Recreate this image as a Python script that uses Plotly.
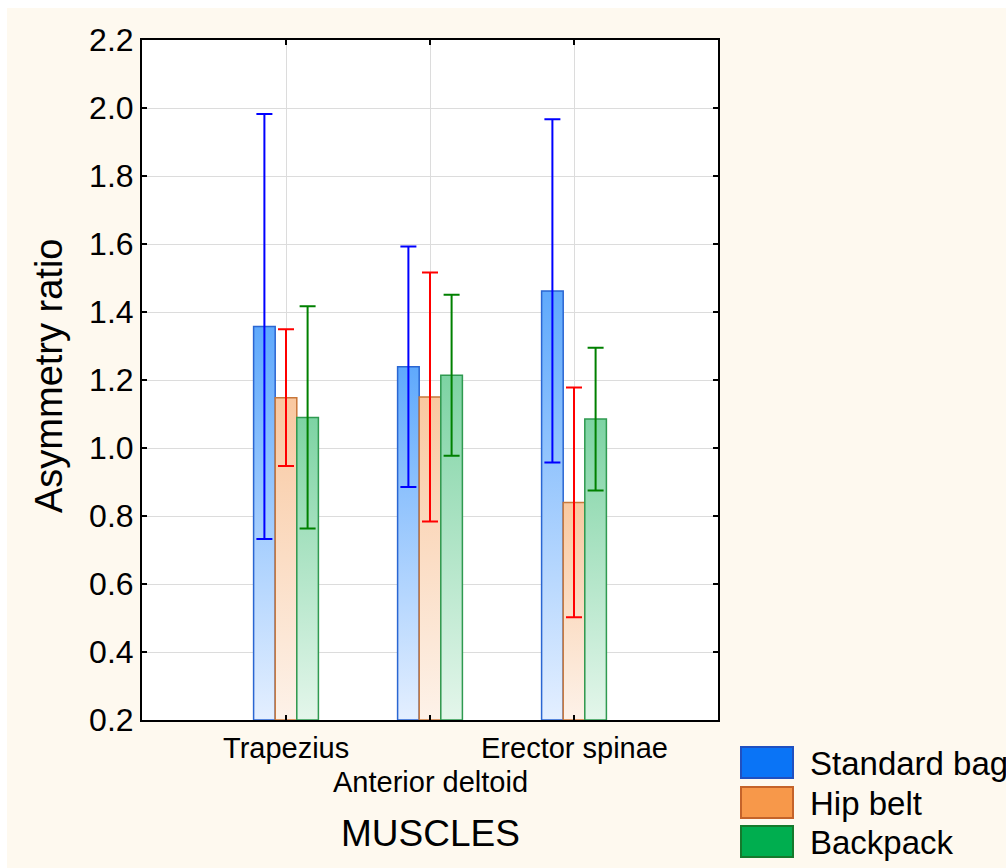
import plotly.graph_objects as go

# ---------------- data ----------------
categories = ["Trapezius", "Anterior deltoid", "Erector spinae"]
series_names = ["Standard bag", "Hip belt", "Backpack"]
standard_bag = [1.357, 1.239, 1.462]
standard_bag_err = [0.625, 0.354, 0.505]
hip_belt = [1.148, 1.150, 0.840]
hip_belt_err = [0.201, 0.366, 0.338]
backpack = [1.090, 1.214, 1.085]
backpack_err = [0.327, 0.237, 0.210]
y_ticks = [0.2, 0.4, 0.6, 0.8, 1.0, 1.2, 1.4, 1.6, 1.8, 2.0, 2.2]

# ---------------- styling ----------------
FONT = "Liberation Sans, Arial, sans-serif"
W, H = 1006, 868
L, R, T, B = 142, 718, 40, 720          # plot area in pixels
BASE = 0.2
BAR_W = 0.15
CREAM = "#FEF9EF"

styles = [
    dict(top="#5fa9fc", bottom="#e4efff", line="#2a66d2", err="#0000ff",
         legend_fill="#0a74f6", legend_line="#2050c0"),
    dict(top="#f9c8a0", bottom="#fdf2e9", line="#c8773a", err="#ff0000",
         legend_fill="#f7984a", legend_line="#c4632a"),
    dict(top="#7dd3a3", bottom="#e4f6eb", line="#2f9a50", err="#008000",
         legend_fill="#00ae4f", legend_line="#157a2c"),
]
values = [standard_bag, hip_belt, backpack]
errors = [standard_bag_err, hip_belt_err, backpack_err]


def px_x(x):
    return (x - L) / (R - L)


def px_y(y):
    return (B - y) / (B - T)


fig = go.Figure()

# bars with vertical gradient
for s, (vals, st) in enumerate(zip(values, styles)):
    for i, v in enumerate(vals):
        c = i + 1 + (s - 1) * BAR_W
        x0, x1 = c - BAR_W / 2, c + BAR_W / 2
        fig.add_trace(go.Scatter(
            x=[x0, x1, x1, x0, x0], y=[BASE, BASE, v, v, BASE],
            mode="lines", fill="toself",
            fillgradient=dict(type="vertical",
                              colorscale=[[0, st["bottom"]], [1, st["top"]]]),
            line=dict(color=st["line"], width=1.5),
            showlegend=False, hoverinfo="skip",
        ))

# error bars
for s, (vals, errs, st) in enumerate(zip(values, errors, styles)):
    xs = [i + 1 + (s - 1) * BAR_W for i in range(len(vals))]
    fig.add_trace(go.Scatter(
        x=xs, y=vals, mode="markers",
        marker=dict(size=1, opacity=0),
        error_y=dict(type="data", array=errs, color=st["err"],
                     thickness=2, width=8),
        name=series_names[s], showlegend=False,
    ))

shapes = [
    dict(type="rect", xref="paper", yref="paper",
         x0=px_x(0), x1=px_x(W), y0=px_y(0), y1=px_y(8),
         fillcolor="white", line=dict(width=0), layer="below"),
    dict(type="rect", xref="paper", yref="paper",
         x0=px_x(0), x1=px_x(7), y0=px_y(0), y1=px_y(H),
         fillcolor="white", line=dict(width=0), layer="below"),
]

annotations = []
# category labels (staggered)
label_y = [748, 782, 748]
for i, cat in enumerate(categories):
    annotations.append(dict(
        x=i + 1, xref="x", y=px_y(label_y[i]), yref="paper",
        text=cat, showarrow=False, xanchor="center", yanchor="middle",
        font=dict(family=FONT, size=29, color="black")))

annotations.append(dict(
    x=0.5, xref="paper", y=px_y(833), yref="paper", text="MUSCLES",
    showarrow=False, xanchor="center", yanchor="middle",
    font=dict(family=FONT, size=37, color="black")))

annotations.append(dict(
    x=px_x(49), xref="paper", y=px_y(376), yref="paper", text="Asymmetry ratio",
    textangle=-90, showarrow=False, xanchor="center", yanchor="middle",
    font=dict(family=FONT, size=38, color="black")))

# legend (boxes + labels)
legend_boxes = [(747, 778), (787, 818), (826, 857)]
for (y0, y1), name, st in zip(legend_boxes, series_names, styles):
    shapes.append(dict(
        type="rect", xref="paper", yref="paper",
        x0=px_x(741), x1=px_x(793), y0=px_y(y1), y1=px_y(y0),
        fillcolor=st["legend_fill"], line=dict(color=st["legend_line"], width=2)))
    annotations.append(dict(
        x=px_x(808), xref="paper", y=px_y((y0 + y1) / 2 + 1), yref="paper",
        text=name, showarrow=False, xanchor="left", yanchor="middle",
        font=dict(family=FONT, size=33, color="black")))

fig.update_layout(
    width=W, height=H,
    margin=dict(l=L, r=W - R, t=T, b=H - B, pad=0),
    paper_bgcolor=CREAM, plot_bgcolor="white",
    showlegend=False,
    shapes=shapes, annotations=annotations,
    font=dict(family=FONT, color="black"),
)
fig.update_xaxes(
    range=[0, 4], tickvals=[1, 2, 3], showticklabels=False,
    showgrid=True, gridcolor="#dcdcdc", gridwidth=1,
    showline=True, linecolor="black", linewidth=2, mirror="ticks",
    ticks="inside", ticklen=5, tickcolor="black", tickwidth=2,
    zeroline=False, fixedrange=True,
)
fig.update_yaxes(
    range=[BASE, 2.2], tickvals=y_ticks, tickformat=".1f",
    tickfont=dict(family=FONT, size=32, color="black"),
    showgrid=True, gridcolor="#dcdcdc", gridwidth=1,
    showline=True, linecolor="black", linewidth=2, mirror="ticks",
    ticks="inside", ticklen=5, tickcolor="black", tickwidth=2,
    zeroline=False, fixedrange=True,
)

fig.write_html("out.html")
